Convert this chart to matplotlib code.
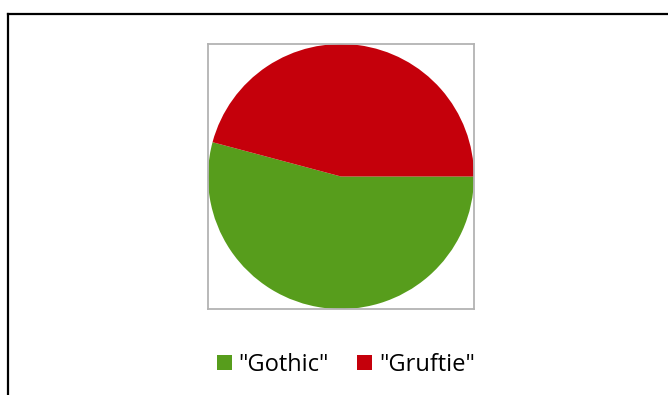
import matplotlib.pyplot as plt
from matplotlib.patches import Patch
from matplotlib.lines import Line2D

labels = ['"Gothic"', '"Gruftie"']
values = [13, 11]
colors = ['#579d1c', '#c5000b']

W, H = 668, 395
fig = plt.figure(figsize=(W / 100, H / 100), dpi=100)
plt.rcParams['font.family'] = ['Open Sans', 'DejaVu Sans']

# outer chart frame (runs off the right and bottom edges)
fig.add_artist(Line2D([8 / W, 8 / W], [0, 1 - 14 / H], color='black', lw=1.6,
                      transform=fig.transFigure))
fig.add_artist(Line2D([8 / W, 1], [1 - 14 / H, 1 - 14 / H], color='black', lw=1.6,
                      transform=fig.transFigure))

# pie in a grey square plot area
ax = fig.add_axes([208 / W, 1 - 309 / H, 266 / W, 265 / H])
ax.pie(values, colors=colors, startangle=0, counterclock=False, radius=1,
       wedgeprops=dict(linewidth=0))
ax.set_frame_on(True)
ax.set_xlim(-1, 1)
ax.set_ylim(-1, 1)
ax.set_aspect('auto')
ax.set_xticks([])
ax.set_yticks([])
for s in ax.spines.values():
    s.set_color('#b3b3b3')
    s.set_linewidth(1.3)

handles = [Patch(facecolor=c, edgecolor='none') for c in colors]
fig.legend(handles, labels, loc='center', bbox_to_anchor=(346 / W, 1 - 365 / H),
           ncol=2, frameon=False, fontsize=17, handlelength=0.62, handleheight=0.62,
           handletextpad=0.3, columnspacing=1.2, borderpad=0)

fig.savefig('out.png', dpi=100)
